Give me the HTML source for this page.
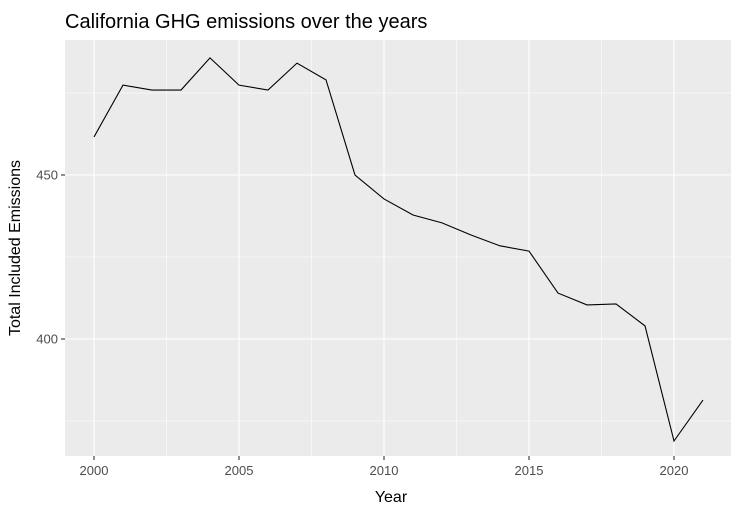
<!DOCTYPE html>
<html><head><meta charset="utf-8"><style>
body{margin:0;background:#fff;font-family:"Liberation Sans",sans-serif}
</style></head><body>
<svg width="742" height="516" xmlns="http://www.w3.org/2000/svg">
<rect width="742" height="516" fill="#fff"/>
<text x="65" y="28" font-size="20" fill="#000">California GHG emissions over the years</text>
<rect id="panel" x="65" y="40" width="666" height="416" fill="#ebebeb"/>
<g id="grid"></g>
<g id="axes"></g>
<path id="line" fill="none" stroke="#000" stroke-width="1.1"/>
<text x="391" y="502" font-size="16" text-anchor="middle">Year</text>
<text transform="translate(20,248) rotate(-90)" font-size="16" text-anchor="middle">Total Included Emissions</text>
</svg>
<script>
const years=[2000,2001,2002,2003,2004,2005,2006,2007,2008,2009,2010,2011,2012,2013,2014,2015,2016,2017,2018,2019,2020,2021];
const emissions=[461.6,477.4,475.9,475.9,485.7,477.4,475.9,484.1,479.0,450.0,442.7,437.8,435.4,431.7,428.4,426.8,414.0,410.4,410.7,404.0,368.9,381.4];
const xTicks=[2000,2005,2010,2015,2020];
const yTicks=[400,450];
const xMinor=[2002.5,2007.5,2012.5,2017.5];
const yMinor=[375,425,475];
const NS="http://www.w3.org/2000/svg";
const X=v=>94+(v-2000)*29;
const Y=v=>175-(v-450)*3.28;
const grid=document.getElementById('grid'),axes=document.getElementById('axes');
function ln(x1,y1,x2,y2,w,par){const l=document.createElementNS(NS,'line');l.setAttribute('x1',x1);l.setAttribute('y1',y1);l.setAttribute('x2',x2);l.setAttribute('y2',y2);l.setAttribute('stroke','#fff');l.setAttribute('stroke-width',w);par.appendChild(l);return l;}
xMinor.forEach(v=>{const l=ln(X(v),40,X(v),456,0.55,grid);

});
yMinor.forEach(v=>{const l=ln(65,Y(v),731,Y(v),0.55,grid);

});
xTicks.forEach(v=>{const l=ln(X(v),40,X(v),456,1.1,grid);


const t=ln(X(v),456,X(v),460,1.1,axes);t.setAttribute('stroke','#333');


const tx=document.createElementNS(NS,'text');tx.setAttribute('x',X(v));tx.setAttribute('y',475);tx.setAttribute('font-size','13');tx.setAttribute('fill','#4d4d4d');tx.setAttribute('text-anchor','middle');tx.textContent=v;


axes.appendChild(tx);});
yTicks.forEach(v=>{const l=ln(65,Y(v),731,Y(v),1.1,grid);


const t=ln(61,Y(v),65,Y(v),1.1,axes);t.setAttribute('stroke','#333');


const tx=document.createElementNS(NS,'text');tx.setAttribute('x',58);tx.setAttribute('y',Y(v)+4.5);tx.setAttribute('font-size','13');tx.setAttribute('fill','#4d4d4d');tx.setAttribute('text-anchor','end');tx.textContent=v;


axes.appendChild(tx);});
document.getElementById('line').setAttribute('d',years.map((y,i)=>(i?'L':'M')+X(y)+','+Y(emissions[i])).join(''));
</script>
</body></html>
